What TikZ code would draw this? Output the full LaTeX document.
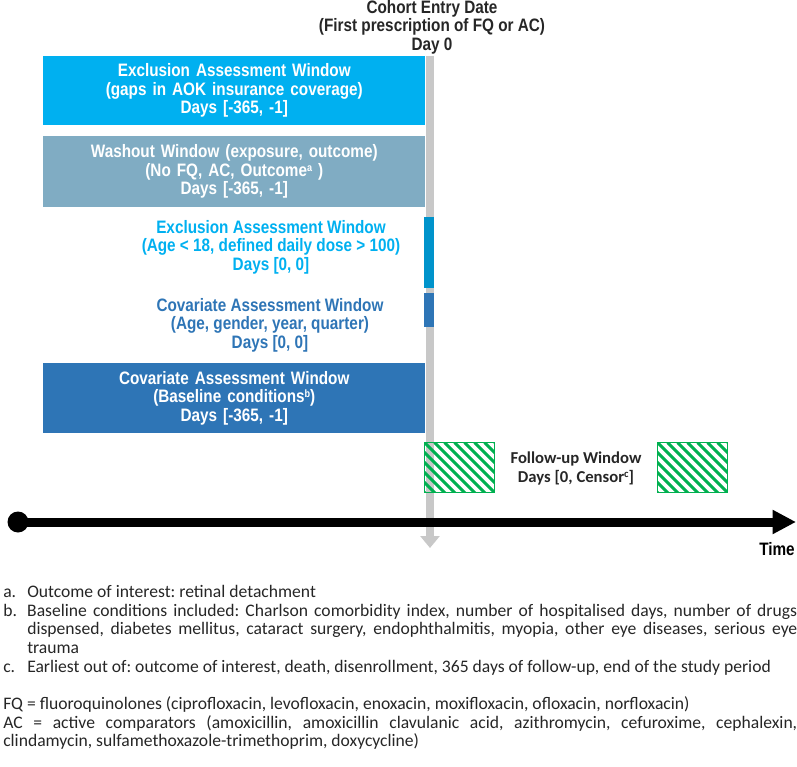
\documentclass[tikz,border=0pt]{standalone}
\usepackage{fontspec}
\setmainfont{Liberation Sans}
\newfontfamily\narrowfont[FakeStretch=0.85]{Liberation Sans}
\newfontfamily\calfont{Carlito}
\usetikzlibrary{arrows.meta}
\definecolor{cyanbox}{HTML}{00B0F0}
\definecolor{washbox}{HTML}{80ACC3}
\definecolor{bluebox}{HTML}{2E75B6}
\definecolor{cyanbar}{HTML}{0093CB}
\definecolor{grayline}{HTML}{C8C8C8}
\definecolor{hatchgreen}{HTML}{00B050}
\definecolor{darktext}{HTML}{262626}
\newcommand\fnmark[1]{\raisebox{0.55ex}{\fontsize{8}{8}\selectfont #1}}
\begin{document}
\begin{tikzpicture}[x=0.75pt,y=-0.75pt,
  boxfont/.style={font=\narrowfont\bfseries\fontsize{13.5}{13.9}\selectfont},
  winbox/.style={boxfont, anchor=north west, inner sep=0pt, minimum width=286.5pt,
    text width=286.5pt, align=center},
  wintext/.style={boxfont, inner sep=0pt, align=center},
  barbox/.style={anchor=north west, inner sep=0pt, minimum width=7.5pt},
  hatchbox/.style={anchor=north west, inner sep=0pt, minimum width=52.5pt, minimum height=37.5pt,
    draw=hatchgreen, line width=0.8pt,
    path picture={\foreach \i in {-6,...,8}
      \draw[hatchgreen, line width=2.2pt] ([xshift=\i*7.5pt]path picture bounding box.north west) -- ++(45pt,-45pt);}},
  notefont/.style={font=\calfont\frenchspacing\fontsize{13.2}{14}\selectfont}
]
\useasboundingbox (0,0) rectangle (797,767);

% title
\node[wintext, text=darktext] (entry) at (432,27)
  {Cohort Entry Date\\(First prescription of FQ or AC)\\Day 0};

% cohort entry line
\coordinate (cetop) at (430,56);
\coordinate (cebot) at (430,548);
\draw[grayline, line width=6pt, -{Triangle[length=9pt,width=14.25pt]}] (cetop) -- (cebot);

% windows
\node[winbox, fill=cyanbox, text=white, minimum height=51.75pt] (excl1) at (43,56)
  {Exclusion Assessment Window\\(gaps in AOK insurance coverage)\\Days [-365, -1]};
\node[winbox, fill=washbox, text=white, minimum height=53.25pt] (wash) at (43,136)
  {Washout Window (exposure, outcome)\\(No FQ, AC, Outcome\fnmark{a} )\\Days [-365, -1]};
\node[wintext, text=cyanbox] (excl2) at (271,247)
  {Exclusion Assessment Window\\(Age < 18, defined daily dose > 100)\\Days [0, 0]};
\node[barbox, fill=cyanbar, minimum height=53.25pt] (bar1) at (424,217) {};
\node[wintext, text=bluebox] (cov1) at (270,325)
  {Covariate Assessment Window\\(Age, gender, year, quarter)\\Days [0, 0]};
\node[barbox, fill=bluebox, minimum height=25.5pt] (bar2) at (424,293) {};
\node[winbox, fill=bluebox, text=white, minimum height=52.5pt] (cov2) at (43,363)
  {Covariate Assessment Window\\(Baseline conditions\fnmark{b})\\Days [-365, -1]};

% follow-up
\node[hatchbox] (fuL) at (424,442) {};
\node[hatchbox] (fuR) at (657,442) {};
\node[font=\calfont\bfseries\fontsize{12.5}{14.3}\selectfont, text=darktext, align=center] (futext) at (576,468)
  {Follow-up Window\\Days [0, Censor\fnmark{c}]};

% time axis
\node[circle, fill=black, minimum size=15.75pt, inner sep=0pt] (tstart) at (18,522) {};
\coordinate (tend) at (796,522);
\draw[line width=6.75pt, -{Triangle[length=17.5pt,width=17pt]}] (tstart.center) -- (tend);
\node[wintext, text=black] (time) at (777,549) {Time};

% notes
\node[notefont, text=darktext, anchor=north west, inner sep=0pt, align=left] (notes) at (3,585) {%
\makebox[18pt][l]{a.}Outcome of interest: retinal detachment\\
\makebox[18pt][l]{b.}\hbox to 577.5pt{Baseline conditions included: Charlson comorbidity index, number of hospitalised days, number of drugs}\\
\hspace*{18pt}\hbox to 577.5pt{dispensed, diabetes mellitus, cataract surgery, endophthalmitis, myopia, other eye diseases, serious eye}\\
\hspace*{18pt}\mbox{trauma}\\
\makebox[18pt][l]{c.}Earliest out of: outcome of interest, death, disenrollment, 365 days of follow-up, end of the study period\\[14pt]
FQ = fluoroquinolones (ciprofloxacin, levofloxacin, enoxacin, moxifloxacin, ofloxacin, norfloxacin)\\
\hbox to 595.5pt{AC = active comparators (amoxicillin, amoxicillin clavulanic acid, azithromycin, cefuroxime, cephalexin,}\\
clindamycin, sulfamethoxazole-trimethoprim, doxycycline)};
\end{tikzpicture}
\end{document}
